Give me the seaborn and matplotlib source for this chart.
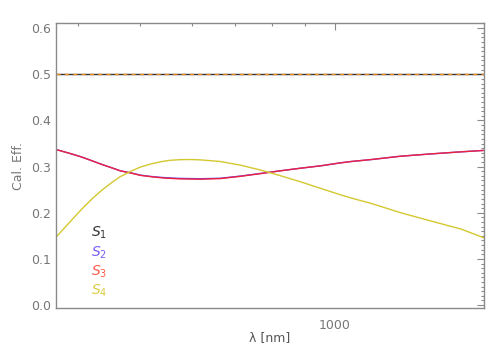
import numpy as np
import pandas as pd
import matplotlib
matplotlib.use('Agg')
import matplotlib.pyplot as plt
import matplotlib.ticker as mticker
import seaborn as sns

# wavelengths (nm) and values
wavelength = [370, 390, 405, 420, 435, 450, 465, 485, 500, 520, 540, 555, 575, 600,
              620, 665, 715, 770, 825, 885, 950, 1020, 1060, 1140, 1265, 1410, 1570, 1700]
s1 = [0.5] * len(wavelength)
s2 = [0.337, 0.328, 0.321, 0.313, 0.305, 0.298, 0.291, 0.286, 0.2815, 0.2785, 0.2765,
      0.2755, 0.2745, 0.274, 0.2737, 0.2748, 0.2795, 0.2855, 0.291, 0.2965, 0.3016,
      0.308, 0.311, 0.3153, 0.3225, 0.3275, 0.332, 0.335]
s3 = [0.337, 0.328, 0.321, 0.313, 0.305, 0.298, 0.291, 0.2855, 0.281, 0.278, 0.2756,
      0.2745, 0.2734, 0.273, 0.2727, 0.274, 0.279, 0.285, 0.291, 0.2965, 0.3016,
      0.308, 0.311, 0.3153, 0.3225, 0.3275, 0.332, 0.335]
s4 = [0.147, 0.182, 0.207, 0.229, 0.248, 0.264, 0.278, 0.291, 0.299, 0.306, 0.311,
      0.3135, 0.315, 0.3153, 0.3145, 0.311, 0.303, 0.292, 0.28, 0.267, 0.253,
      0.239, 0.232, 0.220, 0.200, 0.182, 0.1645, 0.146]

names = ['S1', 'S2', 'S3', 'S4']
colors = {'S1': '#333333', 'S2': '#6a4cf0', 'S3': '#ee2040', 'S4': '#d4c830'}
label_colors = ['#333333', '#7a5cf0', '#ff5a4a', '#d8cc40']

df = pd.DataFrame({
    'wavelength': wavelength * 4,
    'eff': s1 + s2 + s3 + s4,
    'stokes': [n for n in names for _ in wavelength],
})

sns.set_style('white')
plt.rcParams['font.family'] = ['DejaVu Sans']

fig = plt.figure(figsize=(4.98, 3.56), dpi=100)
ax = fig.add_axes([0.1124, 0.134, 0.8586, 0.8])

sns.lineplot(data=df, x='wavelength', y='eff', hue='stokes', palette=colors,
             linewidth=1.0, legend=False, ax=ax, sort=False)
# orange dashed overlay on the 0.5 line
ax.plot(wavelength, s1, color='#e08a20', linewidth=1.0, linestyle=(0, (3, 3)))

ax.set_xscale('log')
ax.set_xlim(370, 1700)
ax.set_ylim(-0.007, 0.61)

ax.xaxis.set_major_locator(mticker.FixedLocator([1000]))
ax.xaxis.set_major_formatter(mticker.FixedFormatter(['1000']))
ax.xaxis.set_minor_locator(mticker.FixedLocator([400, 500, 600, 700, 800, 900]))
ax.xaxis.set_minor_formatter(mticker.NullFormatter())
ax.yaxis.set_major_locator(mticker.MultipleLocator(0.1))
ax.yaxis.set_major_formatter(mticker.FormatStrFormatter('%.1f'))
ax.yaxis.set_minor_locator(mticker.MultipleLocator(0.01))

gray = '#8a8a8a'
for sp in ax.spines.values():
    sp.set_color(gray)
    sp.set_linewidth(1.0)
ax.tick_params(which='both', direction='in', top=True, right=True, color=gray,
               labelcolor='#777777', labelsize=9, width=0.8)
ax.tick_params(which='major', length=5)
ax.tick_params(which='minor', length=2.5)
ax.tick_params(axis='x', which='major', pad=8)

ax.set_xlabel('λ [nm]', color='#555555', fontsize=9, labelpad=-1)
ax.set_ylabel('Cal. Eff.', color='#777777', fontsize=9)
ax.yaxis.set_label_coords(-0.072, 0.5)

# legend as coloured labels
leg_y = [0.156, 0.113, 0.071, 0.030]
for i, (n, c) in enumerate(zip(names, label_colors)):
    ax.text(0.082, leg_y[i], r'$S_{%d}$' % (i + 1), color=c, fontsize=10,
            transform=ax.get_yaxis_transform(), ha='left', va='center')

fig.savefig('out.png', dpi=100)
